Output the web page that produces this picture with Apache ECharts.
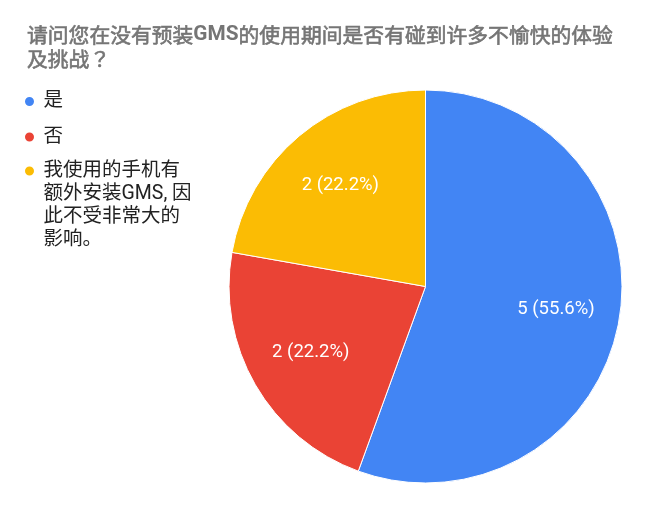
<!DOCTYPE html>
<html>
<head>
    <meta charset="utf-8">
    <title>GMS 使用体验</title>
    <script src="https://cdn.jsdelivr.net/npm/echarts@6/dist/echarts.min.js"></script>
    <style>
        html, body {
            margin: 0;
            padding: 0;
            background: #ffffff;
        }

        #chart {
            width: 648px;
            height: 509px;
        }
    </style>
</head>
<body>
<div id="chart"></div>
<script>
    // GMS is bold, the CJK part of the title is lighter
    var titleText = '请问您在没有预装{b|GMS}的使用期间是否有碰到许多不愉快的体验\n及挑战{q|？}';
    var categories = ['是', '否', '我使用的手机有额外安装GMS, 因此不受非常大的影响。'];
    // legend text as it wraps in the picture
    var legendLines = ['是', '否', '我使用的手机有\n额外安装GMS, 因\n此不受非常大的\n影响。'];
    var counts = [5, 2, 2];
    var colors = ['#4285f4', '#ea4335', '#fbbc04'];

    var font = 'Roboto, "Noto Sans CJK SC", sans-serif';
    var cjkFont = '"Noto Sans CJK SC", Roboto, sans-serif';
    var legendLineHeight = 23;

    var pieData = categories.map(function (name, i) {
        return {name: name, value: counts[i]};
    });

    // the legend centres text on the dot; pad wrapped text with empty lines
    // above so the dot lands on its first line
    function legendText(name) {
        var txt = legendLines[categories.indexOf(name)];
        var n = txt.split('\n').length;
        return new Array(n).join('\n') + txt;
    }

    var legendBase = {
        orient: 'vertical',
        left: 23,
        padding: 0,
        itemGap: 12.5,
        itemWidth: 18,
        itemHeight: 11,
        icon: 'circle',
        selectedMode: false,
        formatter: legendText,
        textStyle: {
            fontFamily: font,
            fontSize: 19.5,
            lineHeight: legendLineHeight,
            color: '#222222'
        }
    };

    var extraLines = legendLines[2].split('\n').length - 1;

    var chart = echarts.init(document.getElementById('chart'), null, {renderer: 'canvas'});
    var option = {
        animation: false,
        color: colors,
        title: {
            text: titleText,
            left: 27,
            top: 23,
            padding: 0,
            textStyle: {
                fontFamily: cjkFont,
                fontSize: 20.8,
                lineHeight: 24,
                fontWeight: 'normal',
                color: '#757575',
                // a thin outline makes the CJK a bit heavier, like the original
                textBorderColor: '#757575',
                textBorderWidth: 0.6,
                rich: {
                    b: {
                        fontFamily: font,
                        fontSize: 20.8,
                        lineHeight: 24,
                        fontWeight: 'bold',
                        color: '#757575',
                        textBorderWidth: 0
                    },
                    q: {
                        fontFamily: '"Noto Sans CJK JP", sans-serif',
                        fontSize: 20.8,
                        lineHeight: 24,
                        fontWeight: 'normal',
                        color: '#757575',
                        textBorderColor: '#757575',
                        textBorderWidth: 0.6
                    }
                }
            }
        },
        legend: [
            echarts.util.merge({top: 90, data: categories.slice(0, 2)}, legendBase),
            // wrapped item in its own legend, shifted up by the empty lines
            echarts.util.merge({
                top: 171 - 11.5 - extraLines * legendLineHeight,
                data: [categories[2]]
            }, legendBase)
        ],
        series: [
            {
                name: 'pie',
                type: 'pie',
                center: [425.5, 286.5],
                radius: [0, 196.5],
                startAngle: 90,
                clockwise: true,
                data: pieData,
                label: {show: false},
                labelLine: {show: false},
                itemStyle: {borderColor: '#ffffff', borderWidth: 1},
                emphasis: {disabled: true}
            },
            {
                // label ring, labels sit at about two thirds of the radius
                name: 'labels',
                type: 'pie',
                center: [425.5, 286.5],
                radius: [62.5, 196.5],
                startAngle: 90,
                clockwise: true,
                silent: true,
                data: pieData,
                itemStyle: {color: 'rgba(0,0,0,0)'},
                labelLine: {show: false},
                label: {
                    show: true,
                    position: 'inside',
                    fontFamily: font,
                    fontSize: 18.5,
                    color: '#ffffff',
                    formatter: function (p) {
                        return p.value + ' (' + p.percent.toFixed(1) + '%)';
                    }
                },
                emphasis: {disabled: true}
            }
        ]
    };
    chart.setOption(option);
</script>
</body>
</html>
